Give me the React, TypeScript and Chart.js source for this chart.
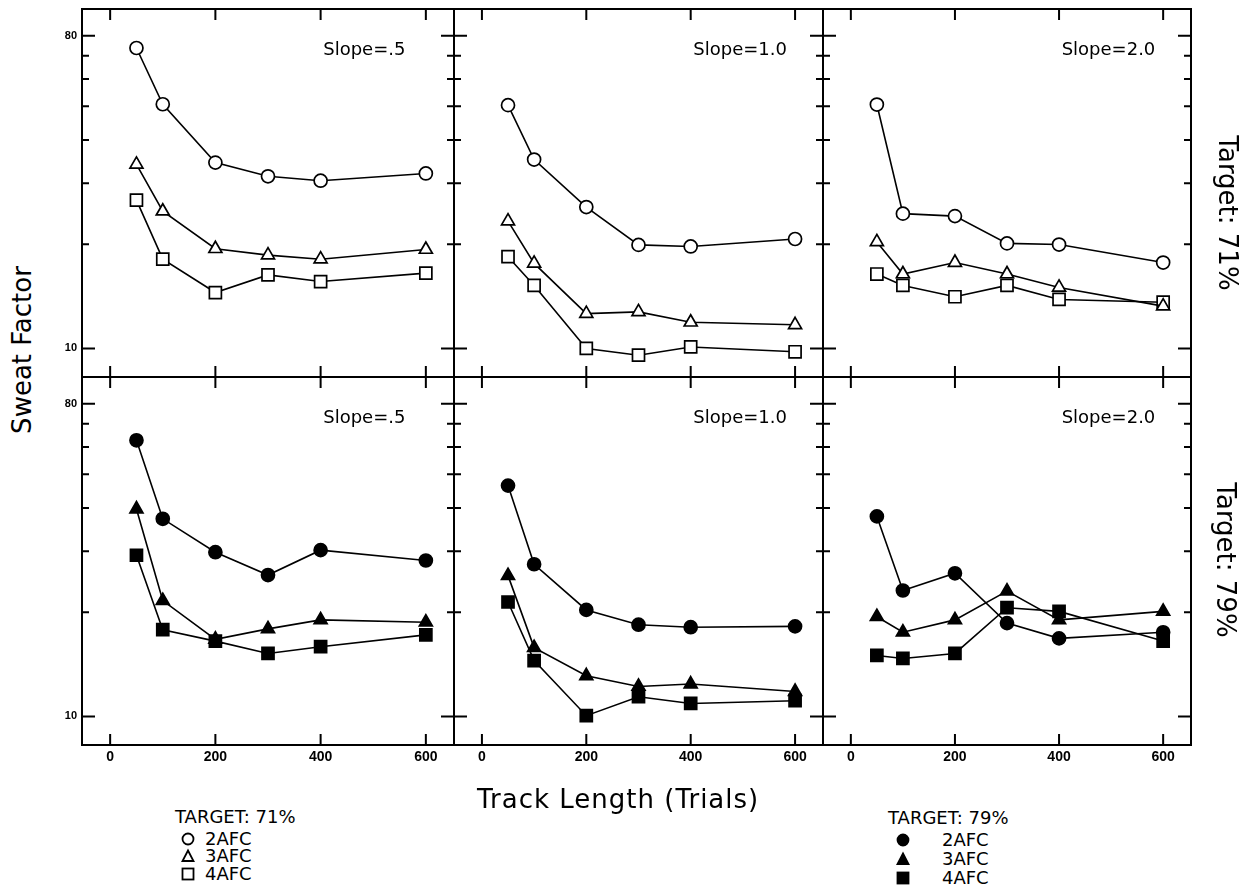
import React, { useEffect, useRef } from "react";
import { Chart, registerables } from "chart.js";

Chart.register(...registerables);

// ---------- data ----------
const trackLengths = [50, 100, 200, 300, 400, 600];
const xTickValues = [0, 200, 400, 600];
const yTickValues = [10, 20, 30, 40, 50, 60, 70, 80];
const yLabelValues = [10, 80];
const slopeLabels = ["Slope=.5", "Slope=1.0", "Slope=2.0"];
const conditionLabels = ["2AFC", "3AFC", "4AFC"];
const targetLabels = ["Target: 71%", "Target: 79%"];
const legendTitles = ["TARGET: 71%", "TARGET: 79%"];

// Target 71% (top row)
const t71Slope05_2afc = [73.7, 50.7, 34.4, 31.4, 30.5, 32.0];
const t71Slope05_3afc = [34.0, 24.9, 19.4, 18.6, 18.1, 19.3];
const t71Slope05_4afc = [26.8, 18.1, 14.5, 16.3, 15.6, 16.5];
const t71Slope10_2afc = [50.4, 35.1, 25.6, 19.9, 19.7, 20.7];
const t71Slope10_3afc = [23.3, 17.6, 12.6, 12.75, 11.9, 11.7];
const t71Slope10_4afc = [18.4, 15.2, 10.0, 9.56, 10.1, 9.78];
const t71Slope20_2afc = [50.6, 24.5, 24.1, 20.1, 19.95, 17.7];
const t71Slope20_3afc = [20.3, 16.4, 17.7, 16.4, 15.0, 13.25];
const t71Slope20_4afc = [16.4, 15.2, 14.1, 15.2, 13.85, 13.6];

// Target 79% (bottom row)
const t79Slope05_2afc = [62.7, 37.2, 29.8, 25.6, 30.2, 28.2];
const t79Slope05_3afc = [39.7, 21.6, 16.7, 17.9, 19.0, 18.7];
const t79Slope05_4afc = [29.2, 17.8, 16.5, 15.2, 15.9, 17.2];
const t79Slope10_2afc = [46.4, 27.5, 20.3, 18.4, 18.1, 18.2];
const t79Slope10_3afc = [25.5, 15.8, 13.1, 12.2, 12.4, 11.8];
const t79Slope10_4afc = [21.4, 14.5, 10.05, 11.4, 10.9, 11.1];
const t79Slope20_2afc = [37.8, 23.1, 25.9, 18.6, 16.8, 17.5];
const t79Slope20_3afc = [19.4, 17.5, 19.0, 23.0, 19.0, 20.1];
const t79Slope20_4afc = [15.0, 14.7, 15.2, 20.6, 20.1, 16.5];

const panelSeries = [
  [
    [t71Slope05_2afc, t71Slope05_3afc, t71Slope05_4afc],
    [t71Slope10_2afc, t71Slope10_3afc, t71Slope10_4afc],
    [t71Slope20_2afc, t71Slope20_3afc, t71Slope20_4afc],
  ],
  [
    [t79Slope05_2afc, t79Slope05_3afc, t79Slope05_4afc],
    [t79Slope10_2afc, t79Slope10_3afc, t79Slope10_4afc],
    [t79Slope20_2afc, t79Slope20_3afc, t79Slope20_4afc],
  ],
];

// ---------- layout ----------
const colEdges = [82, 454, 823, 1191];
const rowEdges = [9, 377, 745];
const MARGIN = 34;
const X_MIN = -53.5;
const X_MAX = 653.5;
const Y_MIN = 8.27;
const Y_MAX = 95.5;
const TITLE_X = 405;

const pointStyles = ["circle", "triangle", "rect"];
const pointRadii = [6.5, 7.5, 8.5];
const FONT = '"DejaVu Sans", sans-serif';

function makeFramePlugin(row: number, col: number) {
  return {
    id: "panelFrame",
    afterDraw(chart: any) {
      const { ctx, chartArea: a, scales } = chart;
      const xs = scales.x;
      const ys = scales.y;
      ctx.save();
      ctx.strokeStyle = "#000";
      ctx.lineWidth = 2;
      ctx.strokeRect(a.left, a.top, a.right - a.left, a.bottom - a.top);
      ctx.beginPath();
      xTickValues.forEach((v) => {
        const p = xs.getPixelForValue(v);
        ctx.moveTo(p, a.top);
        ctx.lineTo(p, a.top + 11);
        ctx.moveTo(p, a.bottom);
        ctx.lineTo(p, a.bottom - 11);
      });
      yTickValues.forEach((v) => {
        const p = ys.getPixelForValue(v);
        const len = yLabelValues.includes(v) ? 13 : 7;
        ctx.moveTo(a.left, p);
        ctx.lineTo(a.left + len, p);
        ctx.moveTo(a.right, p);
        ctx.lineTo(a.right - len, p);
      });
      ctx.stroke();

      ctx.fillStyle = "#000";
      if (col === 0) {
        ctx.font = 'bold 11px "Liberation Sans", sans-serif';
        ctx.textAlign = "right";
        ctx.textBaseline = "middle";
        yLabelValues.forEach((v) => {
          ctx.fillText(String(v), a.left - 5, ys.getPixelForValue(v));
        });
      }
      if (row === 1) {
        ctx.font = 'bold 14px "Liberation Sans", sans-serif';
        ctx.textAlign = "center";
        ctx.textBaseline = "middle";
        xTickValues.forEach((v) => {
          ctx.fillText(String(v), xs.getPixelForValue(v), a.bottom + 12);
        });
      }
      ctx.font = "18px " + FONT;
      ctx.textAlign = "left";
      ctx.textBaseline = "middle";
      ctx.fillText(slopeLabels[col], xs.getPixelForValue(TITLE_X), a.top + 41);
      ctx.restore();
    },
  };
}

function Panel({ row, col }: { row: number; col: number }) {
  const ref = useRef<HTMLCanvasElement>(null);
  const w = colEdges[col + 1] - colEdges[col] + 2 * MARGIN;
  const h = rowEdges[row + 1] - rowEdges[row] + 2 * MARGIN;
  useEffect(() => {
    const filled = row === 1;
    const datasets = panelSeries[row][col].map((series, i) => ({
      label: conditionLabels[i],
      data: series.map((y, k) => ({ x: trackLengths[k], y })),
      borderColor: "#000",
      borderWidth: 1.6,
      backgroundColor: filled ? "#000" : "#fff",
      pointStyle: pointStyles[i],
      pointRadius: pointRadii[i],
      pointBorderWidth: 1.7,
      pointBorderColor: "#000",
      pointBackgroundColor: filled ? "#000" : "#fff",
      fill: false,
      tension: 0,
      clip: false,
    }));
    const chart = new Chart(ref.current as HTMLCanvasElement, {
      type: "line",
      data: { datasets },
      options: {
        animation: false,
        responsive: false,
        events: [],
        layout: { padding: MARGIN },
        plugins: { legend: { display: false }, tooltip: { enabled: false } },
        scales: {
          x: { type: "linear", display: false, min: X_MIN, max: X_MAX },
          y: { type: "logarithmic", display: false, min: Y_MIN, max: Y_MAX },
        },
      },
      plugins: [makeFramePlugin(row, col)],
    } as any);
    return () => chart.destroy();
  }, [row, col]);
  return (
    <canvas
      ref={ref}
      width={w}
      height={h}
      style={{
        position: "absolute",
        left: colEdges[col] - MARGIN,
        top: rowEdges[row] - MARGIN,
        width: w,
        height: h,
      }}
    />
  );
}

function Marker({ kind, filled }: { kind: number; filled: boolean }) {
  const fill = filled ? "#000" : "#fff";
  return (
    <svg width={16} height={16} style={{ position: "absolute", left: -8, top: -8 }}>
      {kind === 0 && <circle cx={8} cy={8} r={5.5} fill={fill} stroke="#000" strokeWidth={1.8} />}
      {kind === 1 && <polygon points="8,2.5 13.5,13 2.5,13" fill={fill} stroke="#000" strokeWidth={1.8} />}
      {kind === 2 && <rect x={2.5} y={2.5} width={11} height={11} fill={fill} stroke="#000" strokeWidth={1.8} />}
    </svg>
  );
}

function Legend({ idx, left, top, markerDx, textDx, rows }: any) {
  const filled = idx === 1;
  return (
    <div style={{ position: "absolute", left, top, fontFamily: FONT, fontSize: 18, lineHeight: 1 }}>
      <div style={{ position: "absolute", left: 0, top: -9, whiteSpace: "nowrap" }}>{legendTitles[idx]}</div>
      {conditionLabels.map((c, i) => (
        <React.Fragment key={c}>
          <div style={{ position: "absolute", left: markerDx, top: rows[i] }}>
            <Marker kind={i} filled={filled} />
          </div>
          <div style={{ position: "absolute", left: textDx, top: rows[i] - 9, whiteSpace: "nowrap" }}>{c}</div>
        </React.Fragment>
      ))}
    </div>
  );
}

export default function App() {
  const rot = (x: number, y: number, deg: number, text: string) => (
    <div
      style={{
        position: "absolute",
        left: x,
        top: y,
        transform: `translate(-50%, -50%) rotate(${deg}deg)`,
        fontFamily: FONT,
        fontSize: 26,
        lineHeight: 1,
        whiteSpace: "nowrap",
      }}
    >
      {text}
    </div>
  );
  return (
    <div
      style={{
        position: "absolute",
        left: 0,
        top: 0,
        width: 1250,
        height: 893,
        background: "#fff",
        overflow: "hidden",
        color: "#000",
      }}
    >
      {[0, 1].map((r) => [0, 1, 2].map((c) => <Panel key={`${r}-${c}`} row={r} col={c} />))}
      {rot(22, 350, -90, "Sweat Factor")}
      {rot(1228, 213, 90, targetLabels[0])}
      {rot(1226, 560, 90, targetLabels[1])}
      <div
        style={{
          position: "absolute",
          left: 477,
          top: 786,
          fontFamily: FONT,
          fontSize: 26,
          letterSpacing: 1,
          lineHeight: 1,
          whiteSpace: "nowrap",
        }}
      >
        Track Length (Trials)
      </div>
      <Legend idx={0} left={175} top={817} markerDx={13} textDx={30} rows={[22, 39, 57]} />
      <Legend idx={1} left={888} top={818} markerDx={15} textDx={54} rows={[22, 41, 60]} />
    </div>
  );
}
